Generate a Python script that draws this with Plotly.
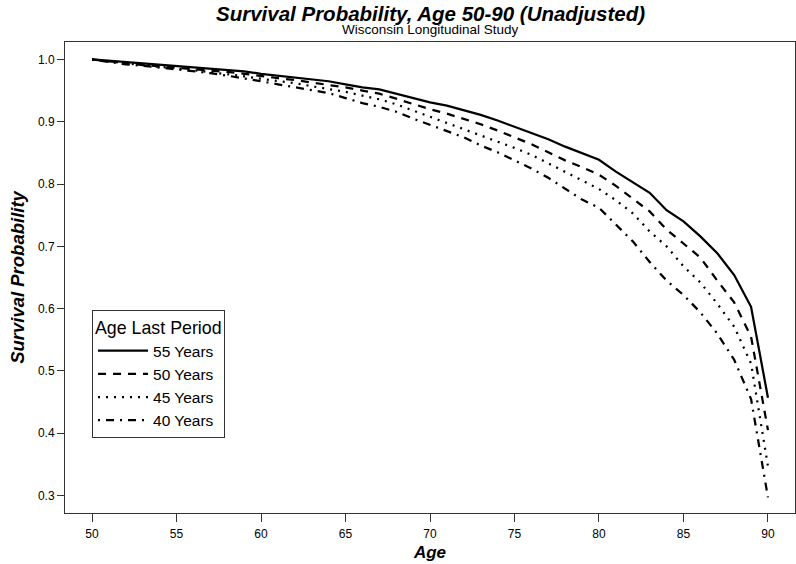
import plotly.graph_objects as go

ages = list(range(50, 91))

surv_55 = [1.000, 0.998, 0.995, 0.993, 0.991, 0.990, 0.988, 0.986, 0.984, 0.981,
           0.977, 0.974, 0.971, 0.968, 0.965, 0.960, 0.955, 0.952, 0.945, 0.938,
           0.931, 0.926, 0.919, 0.911, 0.902, 0.892, 0.883, 0.872, 0.860, 0.849,
           0.839, 0.820, 0.803, 0.786, 0.758, 0.740, 0.716, 0.689, 0.654, 0.603,
           0.457]
surv_50 = [1.000, 0.997, 0.993, 0.991, 0.989, 0.987, 0.985, 0.983, 0.980, 0.977,
           0.973, 0.970, 0.967, 0.963, 0.960, 0.955, 0.950, 0.945, 0.937, 0.928,
           0.920, 0.913, 0.905, 0.896, 0.886, 0.875, 0.864, 0.851, 0.838, 0.827,
           0.815, 0.797, 0.776, 0.756, 0.727, 0.704, 0.682, 0.645, 0.610, 0.555,
           0.405]
surv_45 = [1.000, 0.997, 0.993, 0.990, 0.988, 0.986, 0.983, 0.980, 0.977, 0.973,
           0.969, 0.966, 0.962, 0.957, 0.953, 0.948, 0.942, 0.936, 0.928, 0.918,
           0.908, 0.899, 0.889, 0.879, 0.869, 0.858, 0.847, 0.833, 0.819, 0.806,
           0.792, 0.774, 0.753, 0.724, 0.700, 0.668, 0.642, 0.608, 0.571, 0.512,
           0.347]
surv_40 = [1.000, 0.996, 0.992, 0.990, 0.987, 0.985, 0.982, 0.978, 0.974, 0.970,
           0.965, 0.960, 0.955, 0.950, 0.946, 0.938, 0.930, 0.924, 0.916, 0.905,
           0.895, 0.885, 0.875, 0.862, 0.851, 0.838, 0.825, 0.810, 0.792, 0.775,
           0.762, 0.735, 0.708, 0.675, 0.645, 0.622, 0.594, 0.560, 0.518, 0.455,
           0.297]

series = [
    ("55 Years", surv_55, "solid"),
    ("50 Years", surv_50, "8px,7px"),
    ("45 Years", surv_45, "2px,6px"),
    ("40 Years", surv_40, "2px,6px,8px,6px"),
]

x_ticks = [50, 55, 60, 65, 70, 75, 80, 85, 90]
y_ticks = [0.3, 0.4, 0.5, 0.6, 0.7, 0.8, 0.9, 1.0]
y_tick_labels = ["0.3", "0.4", "0.5", "0.6", "0.7", "0.8", "0.9", "1.0"]

fig = go.Figure()
for name, vals, dash in series:
    fig.add_trace(go.Scatter(
        x=ages, y=vals, mode="lines", name=name,
        line=dict(color="black", width=2.25, dash=dash),
    ))

font_family = "Liberation Sans, Arial, sans-serif"

fig.update_layout(
    width=796, height=564,
    margin=dict(l=65, r=1, t=42, b=51, autoexpand=False),
    paper_bgcolor="white", plot_bgcolor="white",
    font=dict(family=font_family, color="black", size=12),
    showlegend=True,
    legend=dict(
        x=0.037, y=0.431, xanchor="left", yanchor="top",
        bordercolor="#333333", borderwidth=1, bgcolor="white",
        font=dict(size=15.5, family=font_family, color="black"),
        title=dict(text="Age Last Period", font=dict(size=17.8, family=font_family)),
        tracegroupgap=0, itemwidth=50,
    ),
    xaxis=dict(
        range=[48.4, 91.6], tickvals=x_ticks, ticks="outside", ticklen=8,
        tickcolor="#333333", showline=True, mirror=True, linecolor="#333333",
        linewidth=1, showgrid=False, zeroline=False, automargin=False,
        tickfont=dict(size=12), ticklabelstandoff=2,
        title=dict(text="<b><i>Age</i></b>", font=dict(size=17), standoff=5),
    ),
    yaxis=dict(
        range=[0.272, 1.028], tickvals=y_ticks, ticktext=y_tick_labels,
        ticks="outside", ticklen=7,
        tickcolor="#333333", showline=True, mirror=True, linecolor="#333333",
        linewidth=1, showgrid=False, zeroline=False, automargin=False,
        tickfont=dict(size=12),
        title=dict(text="<b><i>Survival Probability</i></b>", font=dict(size=18.5), standoff=8),
    ),
)

fig.add_annotation(
    text="<b><i>Survival Probability, Age 50-90 (Unadjusted)</i></b>",
    xref="paper", yref="paper", x=0.5, y=1, xanchor="center", yanchor="top",
    yshift=42, showarrow=False, font=dict(size=20.5, family=font_family, color="black"),
)
fig.add_annotation(
    text="Wisconsin Longitudinal Study",
    xref="paper", yref="paper", x=0.5, y=1, xanchor="center", yanchor="bottom",
    yshift=3, showarrow=False, font=dict(size=13.5, family=font_family, color="black"),
)

fig.write_html(
    "out.html",
    config={"displayModeBar": False},
    post_script="document.body.style.margin='0';document.body.style.padding='0';",
)
